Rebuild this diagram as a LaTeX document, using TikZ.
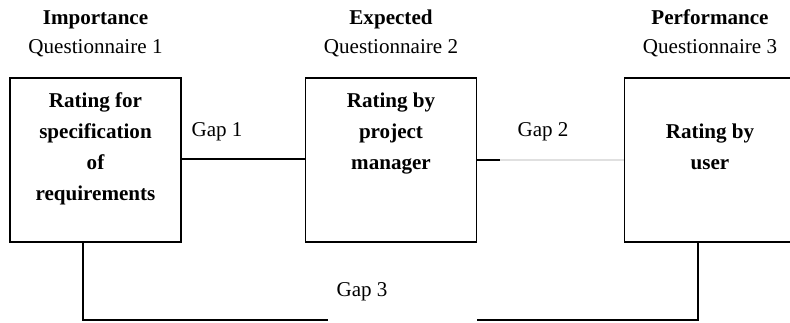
\documentclass[tikz,border=0pt]{standalone}
\usepackage{fontspec}
\setmainfont{Liberation Serif}
\usetikzlibrary{positioning}

\begin{document}
\begin{tikzpicture}[
    x=0.02cm, y=-0.02cm,
    rating/.style={rectangle, draw=black, line width=0.8pt, minimum width=3.42cm, minimum height=3.28cm, inner sep=0pt},
    ratingtext/.style={align=center, font=\fontsize{12}{17.6}\selectfont\bfseries, anchor=north},
    head/.style={anchor=base, font=\fontsize{12}{14}\selectfont\bfseries},
    quest/.style={anchor=base, font=\fontsize{12}{14}\selectfont},
    gaplabel/.style={anchor=base, font=\fontsize{12}{14}\selectfont},
    link/.style={draw=black, line width=0.8pt}
]
\useasboundingbox (0,0) rectangle (790,322);
\clip (0,0) rectangle (790,322);

% Stages
\node[rating] (spec) at (95.5,160) {};
\node[rating] (pm) at (391,160) {};
\node[rating] (user) at (710,160) {};

% Headings
\node[head] (h1) at (95.5,24) {Importance};
\node[quest] (q1) at (95.5,53) {Questionnaire 1};
\node[head] (h2) at (391,24) {Expected};
\node[quest] (q2) at (391,53) {Questionnaire 2};
\node[head] (h3) at (710,24) {Performance};
\node[quest] (q3) at (710,53) {Questionnaire 3};

% Box texts
\node[ratingtext, below=0.19cm of spec.north] (spect) {Rating for\\specification\\of\\requirements};
\node[ratingtext, below=0.19cm of pm.north] (pmt) {Rating by\\project\\manager};
\node[ratingtext, below=0.81cm of user.north] (usert) {Rating by\\user};

% Gaps
\coordinate (g2mid) at (500,160);
\coordinate (b1) at (83,320);
\coordinate (b2) at (698,320);
\coordinate (cutl) at (328,320);
\coordinate (cutr) at (477,320);

\draw[link] (spec.east |- 0,159) -- (pm.west |- 0,159);
\draw[link] (pm.east |- g2mid) -- (g2mid);
\draw[draw=black!12, line width=0.8pt] (g2mid) -- (user.west |- g2mid);
\draw[link] (spec.south -| b1) -- (b1) -- (cutl);
\draw[link] (cutr) -- (b2) -- (user.south -| b2);

\node[gaplabel] (gap1) at (217,136) {Gap 1};
\node[gaplabel] (gap2) at (543,136) {Gap 2};
\node[gaplabel] (gap3) at (362,296) {Gap 3};

\end{tikzpicture}
\end{document}
